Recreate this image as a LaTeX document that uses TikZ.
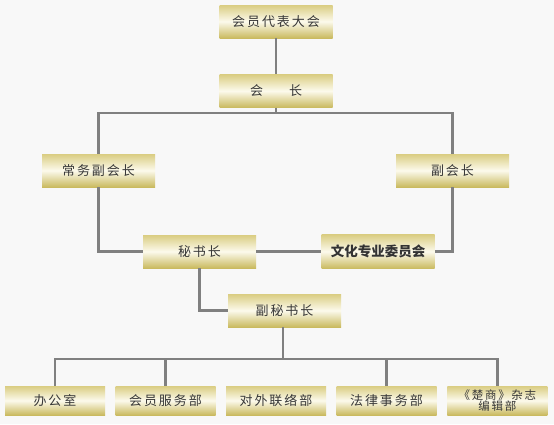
\documentclass[tikz,border=0pt]{standalone}
\usepackage{fontspec}
\usetikzlibrary{positioning}
\newfontfamily\cjk[LetterSpace=15]{Noto Sans CJK SC}
\newfontfamily\cjkplain{Noto Sans CJK SC}
\definecolor{pagegray}{RGB}{248,248,248}
\definecolor{linegray}{RGB}{128,128,128}
\definecolor{textgray}{RGB}{55,55,55}
\definecolor{goldtop}{RGB}{218,205,130}
\definecolor{goldbottom}{RGB}{202,186,95}
\definecolor{cream}{RGB}{252,250,236}

\begin{document}
\begin{tikzpicture}[x=1pt, y=1pt,
    post/.style={minimum width=113pt, minimum height=33pt, inner sep=0pt,
        top color=goldtop, bottom color=goldbottom, middle color=cream,
        text=textgray, font=\cjk\fontsize{13}{15}\selectfont},
    dept/.style={post, minimum width=100pt, minimum height=29pt},
    link/.style={draw=linegray, line width=2.2pt}
]
    \fill[pagegray] (0,0) rectangle (554,-424);
    \useasboundingbox (0,0) rectangle (554,-424);

    \node[post] (assembly) at (276,-21.5) {会员代表大会};
    \node[post, below=36pt of assembly] (president) {会\hspace{2em}长};
    \node[post] (exec vice) at (98.5,-170.5) {常务副会长};
    \node[post] (vice president) at (452.5,-170.5) {副会长};
    \node[post] (secretary) at (199.5,-251.5) {秘书长};
    \node[post, minimum height=34pt, font=\cjkplain\bfseries\fontsize{13.5}{15}\selectfont,
        text=black!80] (culture committee) at (378,-251.5) {文化专业委员会};
    \node[post] (deputy secretary) at (284.5,-310.5) {副秘书长};

    % departments
    \foreach \label [count=\i] in {办公室, 会员服务部, 对外联络部, 法律事务部}
        \node[dept] (dept \i) at ({55+110.5*(\i-1)},-400.5) {\label};
    \node[dept, align=center, font=\cjk\fontsize{11.5}{11.5}\selectfont,
        right=10.5pt of dept 4] (dept 5) {《楚商》杂志\\编辑部};

    \coordinate (president bus) at (276,-113);
    \coordinate (deputy bus) at (283,-359);

    \draw[link] (assembly) -- (president);
    \draw[link] (president.south) -- (president bus);
    \draw[link] (exec vice.north) |- (president bus) -| (vice president.north);
    \draw[link] (exec vice.south) |- (secretary.west);
    \draw[link] (vice president.south) |- (culture committee.east);
    \draw[link] (secretary.east) -- (culture committee.west);
    \draw[link] (secretary.south) |- (deputy secretary.west);
    \draw[link] (deputy secretary.south -| deputy bus) -- (deputy bus);
    \draw[link] (dept 1.north) |- (deputy bus) -| (dept 5.north);
    \foreach \i in {2,4}
        \draw[link] (dept \i.north) -- (dept \i.north |- deputy bus);
\end{tikzpicture}
\end{document}
